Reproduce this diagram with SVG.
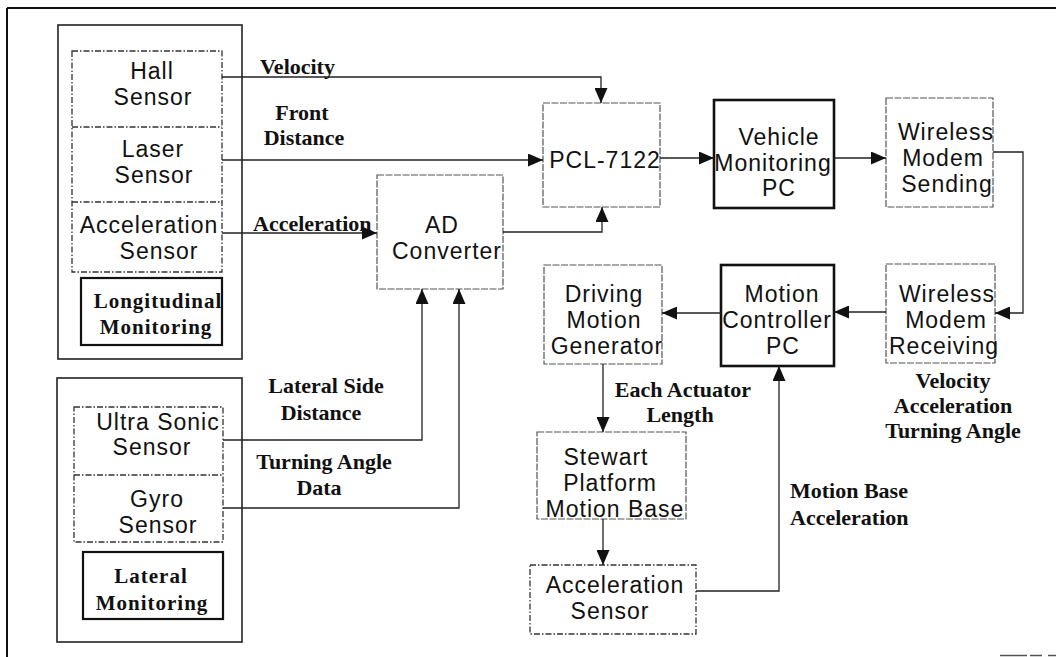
<svg xmlns="http://www.w3.org/2000/svg" width="1056" height="657" viewBox="0 0 1056 657">
<defs>
<marker id="ah" viewBox="0 0 15 13" refX="15" refY="6.5" markerWidth="15" markerHeight="13" orient="auto" markerUnits="userSpaceOnUse">
<path d="M0,0 L15,6.5 L0,13 z" fill="#111"/>
</marker>
<style>
.frame{fill:none;stroke:#111;stroke-width:2}
.grp{fill:none;stroke:#222;stroke-width:1.6}
.dd{fill:none;stroke:#333;stroke-width:1.3;stroke-dasharray:6 2 1.5 2}
.lt{fill:none;stroke:#555;stroke-width:1.2;stroke-dasharray:7 1.5}
.thick{fill:none;stroke:#111;stroke-width:2.6}
.lbl{fill:none;stroke:#111;stroke-width:2.2}
.s{font-family:"Liberation Sans",Arial,sans-serif;font-size:23px;letter-spacing:1px;text-anchor:middle;fill:#111}
.b{font-family:"Liberation Serif","Times New Roman",serif;font-size:22px;font-weight:bold;fill:#111}
.bm{font-family:"Liberation Serif","Times New Roman",serif;font-size:21px;font-weight:bold;letter-spacing:1px;text-anchor:middle;fill:#111}
.c{fill:none;stroke:#222;stroke-width:1.3}
</style>
</defs>
<rect width="1056" height="657" fill="#fff"/>
<g id="frame">
<path class="frame" d="M7,8 H1056 M7,8 V657"/>
<path d="M1000,655.5 H1056" stroke="#555" stroke-width="1.5" stroke-dasharray="27 3 12 6"/>
</g>

<g id="longitudinal-group">
<rect class="grp" x="58" y="25" width="184" height="334"/>
<rect class="dd" x="72" y="51" width="150" height="221"/>
<path class="dd" d="M72,127 H222 M72,202 H222"/>
</g>
<g id="hall-sensor">
<text class="s" x="152" y="79">Hall</text>
<text class="s" x="153" y="105">Sensor</text>
</g>
<g id="laser-sensor">
<text class="s" x="153" y="157">Laser</text>
<text class="s" x="154" y="183">Sensor</text>
</g>
<g id="acceleration-sensor-long">
<text class="s" x="149" y="233">Acceleration</text>
<text class="s" x="159" y="259">Sensor</text>
</g>
<g id="longitudinal-monitoring">
<rect class="lbl" x="81" y="278" width="141" height="67"/>
<text class="bm" x="158" y="308">Longitudinal</text>
<text class="bm" x="156" y="334">Monitoring</text>
</g>

<g id="lateral-group">
<rect class="grp" x="57" y="378" width="185" height="264"/>
<rect class="dd" x="74" y="407" width="149" height="135"/>
<path class="dd" d="M74,475 H223"/>
</g>
<g id="ultrasonic-sensor">
<text class="s" x="158" y="430">Ultra Sonic</text>
<text class="s" x="152" y="455">Sensor</text>
</g>
<g id="gyro-sensor">
<text class="s" x="157" y="507">Gyro</text>
<text class="s" x="158" y="533">Sensor</text>
</g>
<g id="lateral-monitoring">
<rect class="lbl" x="83" y="552" width="140" height="67"/>
<text class="bm" x="151" y="583">Lateral</text>
<text class="bm" x="152" y="610">Monitoring</text>
</g>

<g id="ad-converter">
<rect class="lt" x="377" y="175" width="126" height="114"/>
<text class="s" x="442" y="233">AD</text>
<text class="s" x="447" y="259">Converter</text>
</g>
<g id="pcl-7122">
<rect class="lt" x="543" y="103" width="117" height="104"/>
<text class="s" x="605" y="168">PCL-7122</text>
</g>
<g id="vehicle-monitoring-pc">
<rect class="thick" x="714" y="100" width="120" height="108"/>
<text class="s" x="779" y="145">Vehicle</text>
<text class="s" x="773" y="171">Monitoring</text>
<text class="s" x="779" y="196">PC</text>
</g>
<g id="wireless-modem-sending">
<rect class="lt" x="886" y="98" width="107" height="109"/>
<text class="s" x="946" y="140">Wireless</text>
<text class="s" x="943" y="166">Modem</text>
<text class="s" x="947" y="192">Sending</text>
</g>
<g id="wireless-modem-receiving">
<rect class="lt" x="886" y="264" width="109" height="99"/>
<text class="s" x="947" y="302">Wireless</text>
<text class="s" x="946" y="328">Modem</text>
<text class="s" x="944" y="354">Receiving</text>
</g>
<g id="motion-controller-pc">
<rect class="thick" x="721" y="265" width="113" height="101"/>
<text class="s" x="782" y="302">Motion</text>
<text class="s" x="777" y="328">Controller</text>
<text class="s" x="783" y="354">PC</text>
</g>
<g id="driving-motion-generator">
<rect class="lt" x="544" y="265" width="118" height="99"/>
<text class="s" x="604" y="302">Driving</text>
<text class="s" x="604" y="328">Motion</text>
<text class="s" x="607" y="354">Generator</text>
</g>
<g id="stewart-platform">
<rect class="lt" x="537" y="432" width="149" height="87"/>
<text class="s" x="606" y="465">Stewart</text>
<text class="s" x="610" y="491">Platform</text>
<text class="s" x="615" y="517">Motion Base</text>
</g>
<g id="acceleration-sensor-base">
<rect class="dd" x="530" y="565" width="166" height="69"/>
<text class="s" x="615" y="593">Acceleration</text>
<text class="s" x="610" y="619">Sensor</text>
</g>

<g id="connectors">
<path class="c" d="M222,77 H601 V103" marker-end="url(#ah)"/>
<path class="c" d="M222,160 H543" marker-end="url(#ah)"/>
<path class="c" d="M222,233 H377" stroke-width="2" marker-end="url(#ah)"/>
<path class="c" d="M503,232 H602 V207" marker-end="url(#ah)"/>
<path class="c" d="M660,158 H714" marker-end="url(#ah)"/>
<path class="c" d="M834,158 H886" marker-end="url(#ah)"/>
<path class="c" d="M993,152 H1023 V313 H995" marker-end="url(#ah)"/>
<path class="c" d="M886,312 H834" marker-end="url(#ah)"/>
<path class="c" d="M721,313 H662" marker-end="url(#ah)"/>
<path class="c" d="M603,364 V432" marker-end="url(#ah)"/>
<path class="c" d="M603,519 V565" marker-end="url(#ah)"/>
<path class="c" d="M696,591 H779 V366" marker-end="url(#ah)"/>
<path class="c" d="M223,440 H422 V289" marker-end="url(#ah)"/>
<path class="c" d="M223,508 H459 V289" marker-end="url(#ah)"/>
</g>

<g id="labels">
<text class="b" x="260" y="74">Velocity</text>
<text class="b" x="302" y="120" text-anchor="middle">Front</text>
<text class="b" x="304" y="145" text-anchor="middle">Distance</text>
<text class="b" x="253" y="231">Acceleration</text>
<text class="b" x="326" y="393" text-anchor="middle">Lateral Side</text>
<text class="b" x="321" y="420" text-anchor="middle">Distance</text>
<text class="b" x="324" y="469" text-anchor="middle">Turning Angle</text>
<text class="b" x="319" y="495" text-anchor="middle">Data</text>
<text class="b" x="683" y="397" text-anchor="middle">Each Actuator</text>
<text class="b" x="680" y="422" text-anchor="middle">Length</text>
<text class="b" x="953" y="388" text-anchor="middle">Velocity</text>
<text class="b" x="953" y="413" text-anchor="middle">Acceleration</text>
<text class="b" x="953" y="438" text-anchor="middle">Turning Angle</text>
<text class="b" x="790" y="498">Motion Base</text>
<text class="b" x="790" y="525">Acceleration</text>
</g>
</svg>
